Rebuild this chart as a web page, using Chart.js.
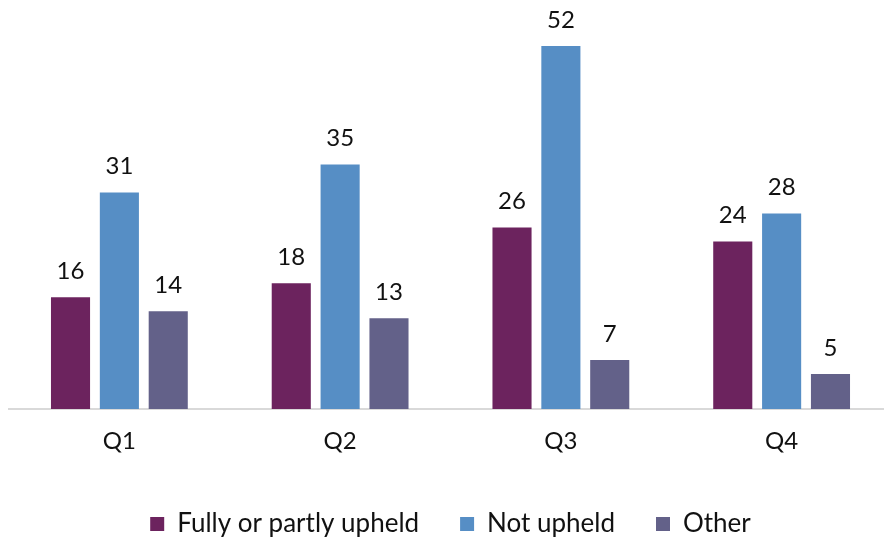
<!DOCTYPE html>
<html>
<head>
<meta charset="utf-8">
<script src="https://cdn.jsdelivr.net/npm/chart.js@4/dist/chart.umd.min.js"></script>
<style>
  html, body { margin: 0; padding: 0; background: #fff; overflow: hidden; }
  #wrap { width: 892px; height: 547px; }
</style>
</head>
<body>
<div id="wrap"><canvas id="chart"></canvas></div>
<script>
// --- Data ---
const quarters = ["Q1", "Q2", "Q3", "Q4"];
const upheld = [16, 18, 26, 24];
const notUpheld = [31, 35, 52, 28];
const other = [14, 13, 7, 5];

const FONT = "Lato, 'Open Sans', sans-serif";

// value labels above each bar
const barLabels = {
  id: "barLabels",
  afterDatasetsDraw(chart) {
    const ctx = chart.ctx;
    ctx.save();
    ctx.fillStyle = "#111";
    ctx.font = "24px " + FONT;
    ctx.textAlign = "center";
    ctx.textBaseline = "middle";
    chart.data.datasets.forEach((ds, i) => {
      chart.getDatasetMeta(i).data.forEach((bar, j) => {
        ctx.fillText(ds.data[j], bar.x, bar.y - 26);
      });
    });
    ctx.restore();
  }
};

new Chart(document.getElementById("chart"), {
  type: "bar",
  data: {
    labels: quarters,
    datasets: [
      { label: "Fully or partly upheld", data: upheld, backgroundColor: "#6c235e" },
      { label: "Not upheld", data: notUpheld, backgroundColor: "#568ec5" },
      { label: "Other", data: other, backgroundColor: "#636189" }
    ]
  },
  options: {
    responsive: true,
    maintainAspectRatio: false,
    animation: false,
    datasets: { bar: { categoryPercentage: 0.664, barPercentage: 0.8 } },
    layout: { padding: { left: 9, right: 0, top: 4, bottom: 0 } },
    plugins: {
      tooltip: { enabled: false },
      legend: {
        position: "bottom",
        labels: {
          boxWidth: 14,
          boxHeight: 14,
          padding: 41,
          color: "#111",
          font: { family: FONT, size: 26 }
        }
      }
    },
    scales: {
      x: {
        grid: { display: false, drawTicks: false },
        border: { color: "#d9d9d9", width: 2 },
        ticks: { color: "#111", padding: 18, font: { family: FONT, size: 24 } },
        afterFit: s => { s.height = 61; }
      },
      y: {
        display: false,
        min: 0,
        max: 58
      }
    }
  },
  plugins: [barLabels]
});
</script>
</body>
</html>
